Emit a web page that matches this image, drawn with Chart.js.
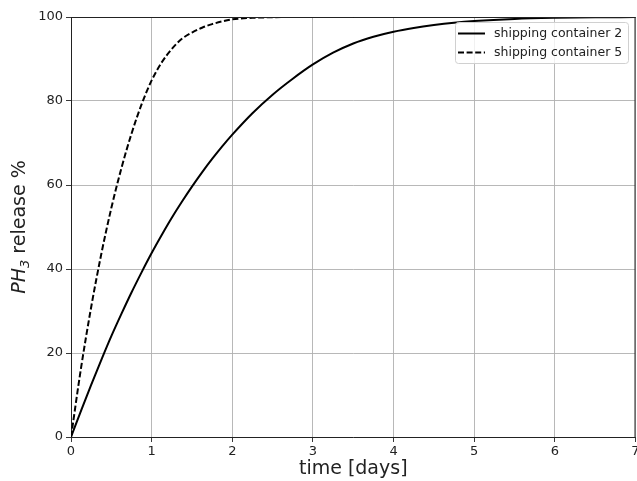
<!DOCTYPE html>
<html>
<head>
<meta charset="utf-8">
<script src="https://cdn.jsdelivr.net/npm/chart.js@4.4.0/dist/chart.umd.min.js"></script>
<style>
  html, body { margin: 0; padding: 0; background: #fff; }
  #wrap { width: 637px; height: 481px; }
</style>
</head>
<body>
<div id="wrap"><canvas id="releaseChart" width="637" height="481"></canvas></div>
<script>
// values
const days = [0, 0.125, 0.25, 0.375, 0.5, 0.625, 0.75, 0.875, 1, 1.125, 1.25, 1.375, 1.5, 1.625, 1.75, 1.875, 2,
              2.25, 2.5, 2.75, 3, 3.25, 3.5, 3.75, 4, 4.25, 4.5, 4.75, 5, 5.5, 6, 6.5, 7];
const container2 = [0, 6.3, 12.4, 18.3, 24.0, 29.3, 34.4, 39.2, 43.8, 48.1, 52.2, 56.0, 59.6, 63.0, 66.2, 69.2, 72.0,
                    77.1, 81.5, 85.3, 88.7, 91.5, 93.7, 95.3, 96.5, 97.4, 98.1, 98.65, 99.05, 99.55, 99.8, 99.93, 99.98];
const container5 = [0, 16.5, 30.9, 43.5, 54.5, 64.0, 72.2, 79.2, 84.9, 89.2, 92.4, 94.8, 96.3, 97.45, 98.3, 98.95, 99.45,
                    99.8, 99.95, 100, 100, 100, 100, 100, 100, 100, 100, 100, 100, 100, 100, 100, 100];
const xTicks = [0, 1, 2, 3, 4, 5, 6, 7];
const yTicks = [0, 20, 40, 60, 80, 100];
const seriesLabels = ['shipping container 2', 'shipping container 5'];

const FONT = '"DejaVu Sans", sans-serif';
const INK = '#222222';

function toPoints(values) {
    return days.map((d, i) => ({ x: d, y: values[i] }));
}

// frame, axis titles and legend drawn by hand (matplotlib look)
const decorations = {
    id: 'decorations',
    afterDatasetsDraw(chart) {
        const ctx = chart.ctx;
        const a = chart.chartArea;
        ctx.save();

        // top + right spines
        ctx.strokeStyle = INK;
        ctx.lineWidth = 1;
        ctx.beginPath();
        ctx.moveTo(a.left, a.top + 0.5);
        ctx.lineTo(a.right, a.top + 0.5);
        ctx.moveTo(a.right - 0.5, a.top);
        ctx.lineTo(a.right - 0.5, a.bottom);
        ctx.stroke();

        // x title
        ctx.fillStyle = INK;
        ctx.textAlign = 'center';
        ctx.textBaseline = 'middle';
        ctx.font = '19px ' + FONT;
        ctx.fillText('time [days]', (a.left + a.right) / 2, 469);

        // y title: italic PH, subscript 3, then " release %"
        ctx.save();
        ctx.translate(20, (a.top + a.bottom) / 2);
        ctx.rotate(-Math.PI / 2);
        ctx.textAlign = 'left';
        const big = '19px ' + FONT;
        const italic = 'italic 19px ' + FONT;
        const small = 'italic 13px ' + FONT;
        ctx.font = italic; const w1 = ctx.measureText('PH').width;
        ctx.font = small; const w2 = ctx.measureText('3').width;
        ctx.font = big; const w3 = ctx.measureText(' release %').width;
        let x = -(w1 + w2 + w3) / 2;
        ctx.font = italic; ctx.fillText('PH', x, 0); x += w1;
        ctx.font = small; ctx.fillText('3', x, 6); x += w2;
        ctx.font = big; ctx.fillText(' release %', x, 0);
        ctx.restore();

        // legend box
        const bx = 455.5, by = 22.5, bw = 173, bh = 41;
        ctx.beginPath();
        ctx.roundRect(bx, by, bw, bh, 3);
        ctx.fillStyle = 'rgba(255,255,255,0.8)';
        ctx.fill();
        ctx.strokeStyle = '#d0d0d0';
        ctx.lineWidth = 1;
        ctx.stroke();

        ctx.font = '12.5px ' + FONT;
        ctx.textAlign = 'left';
        ctx.textBaseline = 'middle';
        chart.data.datasets.forEach((ds, i) => {
            const yy = 33.5 + i * 19;
            ctx.beginPath();
            ctx.strokeStyle = ds.borderColor;
            ctx.lineWidth = ds.borderWidth;
            ctx.setLineDash(ds.borderDash || []);
            ctx.moveTo(458, yy);
            ctx.lineTo(485, yy);
            ctx.stroke();
            ctx.setLineDash([]);
            ctx.fillStyle = INK;
            ctx.fillText(ds.label, 494, yy);
        });

        ctx.restore();
    }
};

const ctx = document.getElementById('releaseChart').getContext('2d');
const releaseChart = new Chart(ctx, {
    type: 'line',
    data: {
        datasets: [{
            label: seriesLabels[0],
            data: toPoints(container2),
            borderColor: '#000000',
            borderWidth: 2,
            pointRadius: 0,
            fill: false,
            cubicInterpolationMode: 'monotone'
        }, {
            label: seriesLabels[1],
            data: toPoints(container5),
            borderColor: '#000000',
            borderWidth: 2,
            borderDash: [6, 2.6],
            pointRadius: 0,
            fill: false,
            cubicInterpolationMode: 'monotone'
        }]
    },
    options: {
        responsive: false,
        animation: false,
        layout: { padding: { top: 17, right: 1.5, left: 0, bottom: 0 } },
        plugins: {
            legend: { display: false },
            tooltip: { enabled: false }
        },
        scales: {
            x: {
                type: 'linear',
                min: 0,
                max: 7,
                afterBuildTicks: s => { s.ticks = xTicks.map(v => ({ value: v })); },
                afterFit: s => { s.height = 44; s.paddingLeft = 0; s.paddingRight = 0; },
                grid: { color: '#b0b0b0', lineWidth: 0.9, tickLength: 5, tickColor: INK },
                border: { color: INK, width: 1 },
                ticks: { color: INK, font: { family: FONT, size: 13 }, padding: 2, maxRotation: 0 }
            },
            y: {
                min: 0,
                max: 100,
                afterBuildTicks: s => { s.ticks = yTicks.map(v => ({ value: v })); },
                afterFit: s => { s.width = 71; s.paddingTop = 0; s.paddingBottom = 0; },
                grid: { color: '#b0b0b0', lineWidth: 0.9, tickLength: 5, tickColor: INK },
                border: { color: INK, width: 1 },
                ticks: { color: INK, font: { family: FONT, size: 13 }, padding: 3 }
            }
        }
    },
    plugins: [decorations]
});
</script>
</body>
</html>
